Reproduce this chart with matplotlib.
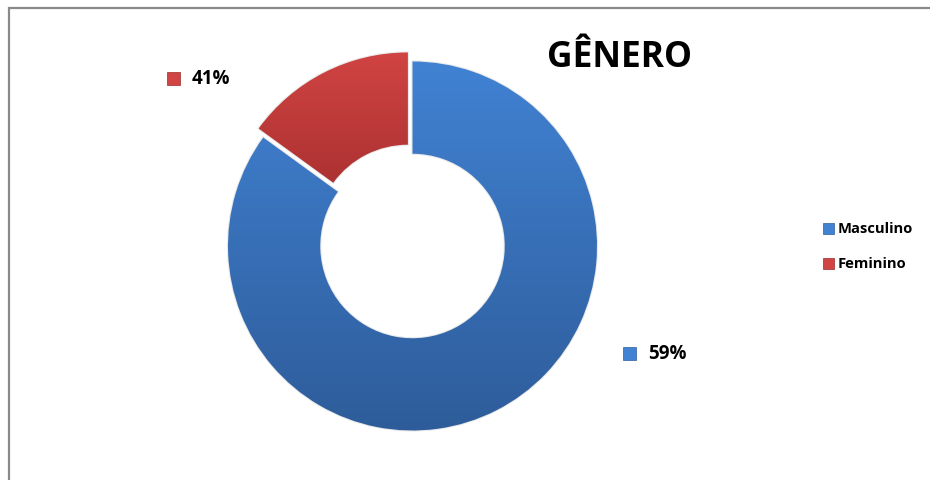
import numpy as np
import matplotlib
matplotlib.use("Agg")
import matplotlib.pyplot as plt
from matplotlib.patches import Rectangle
from matplotlib.colors import LinearSegmentedColormap

# ---- data ----
categories = ["Masculino", "Feminino"]
slice_sizes = [85, 15]            # slice extents as drawn in the picture
value_labels = ["59%", "41%"]     # data labels as printed in the chart
title = "GÊNERO"

top_colors = ["#4182d3", "#d04443"]
bottom_colors = ["#2e5c9a", "#9e2a2a"]

FONT = ["Open Sans", "DejaVu Sans"]
W, H, DPI = 930, 481, 100
fig = plt.figure(figsize=(W / DPI, H / DPI), dpi=DPI)
fig.patch.set_facecolor("white")

# pie geometry in pixels
cx, cy, R = 412.5, H - 247.0, 184.5
ax = fig.add_axes([0, 0, 1, 1])
wedges, _ = ax.pie(slice_sizes, startangle=90, counterclock=False, radius=1.0,
                   explode=[0, 0.055], colors=top_colors,
                   wedgeprops=dict(width=0.5, linewidth=0))
ax.set_xlim(-cx / R, (W - cx) / R)
ax.set_ylim(-cy / R, (H - cy) / R)
ax.set_aspect("equal")
ax.axis("off")

# vertical gradient fill for every wedge, clipped to the wedge shape
for w, c0, c1 in zip(wedges, top_colors, bottom_colors):
    path = w.get_path()
    verts = w.get_transform().transform(path.vertices)
    verts = ax.transData.inverted().transform(verts)
    x0, y0 = verts.min(axis=0)
    x1, y1 = verts.max(axis=0)
    cmap = LinearSegmentedColormap.from_list("g", [c1, c0])
    grad = np.linspace(0, 1, 256).reshape(-1, 1)
    im = ax.imshow(grad, cmap=cmap, extent=[x0, x1, y0, y1], origin="lower",
                   aspect="auto", zorder=w.get_zorder() + 0.1,
                   interpolation="bilinear")
    im.set_clip_path(w)
    w.set_edgecolor("#e8e8e8")
    w.set_linewidth(1.5)

ax.set_xlim(-cx / R, (W - cx) / R)
ax.set_ylim(-cy / R, (H - cy) / R)

# title
fig.text(619.5 / W, 1 - 58 / H, title, ha="center", va="center",
         fontsize=25.5, fontweight="bold", family=FONT)

# data labels with colour squares
label_pos = [(648, 354), (192, 79)]
for (px, py), txt, c0, c1 in zip(label_pos, value_labels, top_colors, bottom_colors):
    fig.text(px / W, 1 - py / H, txt, ha="left", va="center", fontsize=13.5,
             fontweight="bold", family=FONT)
    fig.patches.append(Rectangle(((px - 25) / W, 1 - (py + 7) / H), 13 / W, 13 / H,
                                 transform=fig.transFigure, facecolor=c0,
                                 edgecolor=c1, linewidth=0.5))

# legend
leg_pos = [229, 264]
for py, name, c0, c1 in zip(leg_pos, categories, top_colors, bottom_colors):
    fig.patches.append(Rectangle((823 / W, 1 - (py + 5.5) / H), 11 / W, 11 / H,
                                 transform=fig.transFigure, facecolor=c0,
                                 edgecolor=c1, linewidth=0.5))
    fig.text(838 / W, 1 - py / H, name, ha="left", va="center", fontsize=10.6,
             fontweight="bold", family=FONT)

# chart border (top and left visible)
fig.patches.append(Rectangle((9 / W, -0.1), 1.2, 1.1 - 8.5 / H,
                             transform=fig.transFigure, fill=False,
                             edgecolor="#8a8a8a", linewidth=1.6))

fig.savefig("out.png", dpi=DPI, facecolor="white")
